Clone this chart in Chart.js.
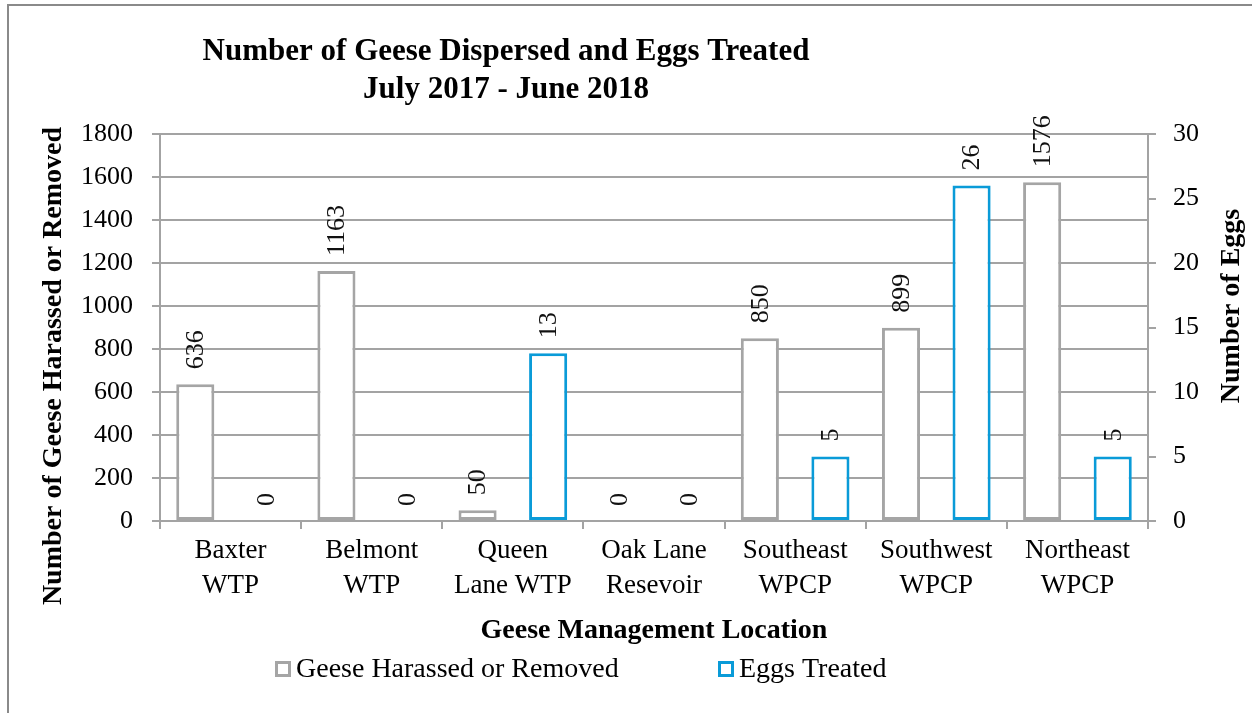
<!DOCTYPE html>
<html>
<head>
<meta charset="utf-8">
<script src="https://cdn.jsdelivr.net/npm/chart.js@4.4.1/dist/chart.umd.min.js"></script>
<style>
  html, body { margin: 0; padding: 0; background: #fff; }
  #wrap { position: relative; width: 1252px; height: 713px; }
  #frame { position: absolute; left: 7px; top: 4px; width: 1260px; height: 720px;
           border-top: 2px solid #8a8a8a; border-left: 2px solid #8a8a8a; }
  canvas { position: absolute; left: 0; top: 0; }
</style>
</head>
<body>
<div id="wrap">
  <div id="frame"></div>
  <canvas id="geeseChart" width="1252" height="713"></canvas>
</div>
<script>
// Geese dispersed / eggs treated, July 2017 - June 2018
const locations = [
  ['Baxter', 'WTP'],
  ['Belmont', 'WTP'],
  ['Queen', 'Lane WTP'],
  ['Oak Lane', 'Resevoir'],
  ['Southeast', 'WPCP'],
  ['Southwest', 'WPCP'],
  ['Northeast', 'WPCP']
];
const geeseRemoved = [636, 1163, 50, 0, 850, 899, 1576];
const eggsTreated = [0, 0, 13, 0, 5, 26, 5];
const seriesNames = ['Geese Harassed or Removed', 'Eggs Treated'];
const titleLines = ['Number of Geese Dispersed and Eggs Treated', 'July 2017 - June 2018'];
const geeseAxis = { min: 0, max: 1800, step: 200 };
const eggsAxis = { min: 0, max: 30, step: 5 };

const FONT = "'Liberation Serif', 'Times New Roman', serif";
const GREY = '#a5a5a5';
const BLUE = '#0a9bd8';
const GRID = '#a3a3a3';

// value labels, titles and the legend are painted by hand
const overlay = {
  id: 'overlay',
  afterDatasetsDraw(chart) {
    const ctx = chart.ctx;
    ctx.save();
    ctx.fillStyle = '#111';
    ctx.font = '26px ' + FONT;
    ctx.textAlign = 'left';
    ctx.textBaseline = 'middle';
    chart.data.datasets.forEach((ds, i) => {
      chart.getDatasetMeta(i).data.forEach((bar, j) => {
        ctx.save();
        ctx.translate(bar.x, bar.y - 15);
        ctx.rotate(-Math.PI / 2);
        ctx.fillText(String(ds.data[j]), 0, 1);
        ctx.restore();
      });
    });
    ctx.restore();
  },
  afterDraw(chart) {
    const ctx = chart.ctx;
    ctx.save();
    ctx.fillStyle = '#000';
    ctx.textAlign = 'center';
    ctx.textBaseline = 'middle';

    ctx.font = 'bold 31px ' + FONT;
    ctx.fillText(titleLines[0], 506, 52);
    ctx.fillText(titleLines[1], 506, 90);

    ctx.font = 'bold 28px ' + FONT;
    ctx.save();
    ctx.translate(54, 366);
    ctx.rotate(-Math.PI / 2);
    ctx.fillText('Number of Geese Harassed or Removed', 0, 0);
    ctx.restore();
    ctx.save();
    ctx.translate(1232, 306);
    ctx.rotate(-Math.PI / 2);
    ctx.fillText('Number of Eggs', 0, 0);
    ctx.restore();

    // legend
    const items = [
      { box: 276.5, text: 296, color: GREY },
      { box: 719.5, text: 739, color: BLUE }
    ];
    ctx.font = '28px ' + FONT;
    ctx.textAlign = 'left';
    ctx.lineWidth = 3;
    items.forEach((it, i) => {
      ctx.strokeStyle = it.color;
      ctx.fillStyle = '#fff';
      ctx.fillRect(it.box, 662.5, 13, 13);
      ctx.strokeRect(it.box, 662.5, 13, 13);
      ctx.fillStyle = '#000';
      ctx.fillText(chart.data.datasets[i].label, it.text, 670);
    });
    ctx.restore();
  }
};

const ctx = document.getElementById('geeseChart').getContext('2d');
new Chart(ctx, {
  type: 'bar',
  data: {
    labels: locations,
    datasets: [
      {
        label: seriesNames[0],
        data: geeseRemoved,
        yAxisID: 'y',
        backgroundColor: '#ffffff',
        borderColor: GREY,
        borderWidth: 3,
        borderSkipped: false,
        categoryPercentage: 1.0,
        barPercentage: 0.54
      },
      {
        label: seriesNames[1],
        data: eggsTreated,
        yAxisID: 'y1',
        backgroundColor: '#ffffff',
        borderColor: BLUE,
        borderWidth: 3,
        borderSkipped: false,
        categoryPercentage: 1.0,
        barPercentage: 0.54
      }
    ]
  },
  options: {
    responsive: false,
    animation: false,
    layout: { padding: { top: 134, bottom: 65, left: 0, right: 0 } },
    plugins: {
      legend: { display: false },
      title: { display: false },
      tooltip: { enabled: false }
    },
    scales: {
      x: {
        offset: true,
        grid: { display: true, drawOnChartArea: false, drawTicks: true, tickLength: 8, color: GRID, lineWidth: 2 },
        border: { color: GRID, width: 2 },
        ticks: { color: '#000', font: { family: FONT, size: 27, lineHeight: 1.27 }, padding: 5, maxRotation: 0, autoSkip: false },
        title: { display: true, text: 'Geese Management Location', color: '#000',
                 font: { family: FONT, size: 28, weight: 'bold' }, padding: { top: 0, bottom: 0 } },
        afterFit(scale) { scale.height = 127; }
      },
      y: {
        position: 'left',
        min: geeseAxis.min,
        max: geeseAxis.max,
        ticks: { stepSize: geeseAxis.step, color: '#000', font: { family: FONT, size: 26 }, padding: 19,
                 callback: v => String(v) },
        grid: { color: GRID, lineWidth: 2, tickLength: 8 },
        border: { color: GRID, width: 2 },
        afterFit(scale) { scale.width = 160; }
      },
      y1: {
        position: 'right',
        min: eggsAxis.min,
        max: eggsAxis.max,
        ticks: { stepSize: eggsAxis.step, color: '#000', font: { family: FONT, size: 26 }, padding: 17,
                 callback: v => String(v) },
        grid: { drawOnChartArea: false, color: GRID, lineWidth: 2, tickLength: 8 },
        border: { color: GRID, width: 2 },
        afterFit(scale) { scale.width = 104; }
      }
    }
  },
  plugins: [overlay]
});
</script>
</body>
</html>
